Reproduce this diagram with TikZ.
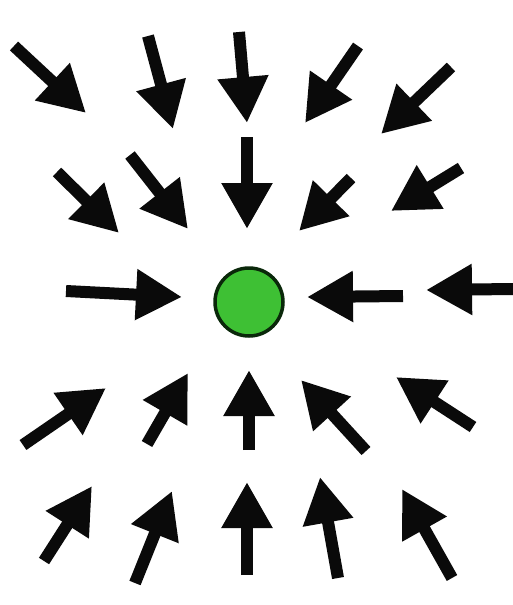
\documentclass[tikz,border=0pt]{standalone}
\usepackage{xcolor}
\usepackage{tikz}
\usetikzlibrary{arrows.meta}
\definecolor{chargegreen}{RGB}{62, 192, 52}
\definecolor{rimgreen}{RGB}{10, 40, 10}
\definecolor{fieldblack}{RGB}{10, 10, 10}
\tikzset{
  fieldarrow/.style={-{Triangle[length=46pt, width=48pt]}, line width=12pt,
              color=fieldblack},
  chargedot/.style={circle, draw=rimgreen, fill=chargegreen, line width=3.5pt,
              minimum size=68pt, inner sep=0pt},
}
\begin{document}
\begin{tikzpicture}[x=1pt, y=-1pt]
  \useasboundingbox[fill=white] (0,0) rectangle (513,605);

  % the charge in the middle
  \node[chargedot] (charge) at (249,302) {};

  % row 1
  \coordinate (r1c1t) at (14,46);   \coordinate (r1c1h) at (86,113);
  \coordinate (r1c2t) at (148,36);  \coordinate (r1c2h) at (173,129);
  \coordinate (r1c3t) at (239,32);  \coordinate (r1c3h) at (247,123);
  \coordinate (r1c4t) at (358,46);  \coordinate (r1c4h) at (305,123);
  \coordinate (r1c5t) at (451,67);  \coordinate (r1c5h) at (381,134);
  \draw[fieldarrow] (r1c1t) -- (r1c1h);
  \draw[fieldarrow] (r1c2t) -- (r1c2h);
  \draw[fieldarrow] (r1c3t) -- (r1c3h);
  \draw[fieldarrow] (r1c4t) -- (r1c4h);
  \draw[fieldarrow] (r1c5t) -- (r1c5h);

  % row 2
  \coordinate (r2c1t) at (57,172);  \coordinate (r2c1h) at (119,233);
  \coordinate (r2c2t) at (130,155); \coordinate (r2c2h) at (188,229);
  \coordinate (r2c3t) at (247,137); \coordinate (r2c3h) at (247,229);
  \coordinate (r2c4t) at (351,178); \coordinate (r2c4h) at (299,231);
  \coordinate (r2c5t) at (461,168); \coordinate (r2c5h) at (391,211);
  \draw[fieldarrow] (r2c1t) -- (r2c1h);
  \draw[fieldarrow] (r2c2t) -- (r2c2h);
  \draw[fieldarrow] (r2c3t) -- (r2c3h);
  \draw[fieldarrow] (r2c4t) -- (r2c4h);
  \draw[fieldarrow] (r2c5t) -- (r2c5h);

  % row 3
  \coordinate (r3c1t) at (66,291);  \coordinate (r3c1h) at (182,297);
  \coordinate (r3c4t) at (403,296); \coordinate (r3c4h) at (307,297);
  \coordinate (r3c5t) at (513,289); \coordinate (r3c5h) at (426,290);
  \draw[fieldarrow] (r3c1t) -- (r3c1h);
  \draw[fieldarrow] (r3c4t) -- (r3c4h);
  \draw[fieldarrow] (r3c5t) -- (r3c5h);

  % row 4
  \coordinate (r4c1t) at (23,445);  \coordinate (r4c1h) at (106,388);
  \coordinate (r4c2t) at (147,444); \coordinate (r4c2h) at (188,373);
  \coordinate (r4c3t) at (249,450); \coordinate (r4c3h) at (249,370);
  \coordinate (r4c4t) at (366,451); \coordinate (r4c4h) at (301,380);
  \coordinate (r4c5t) at (473,427); \coordinate (r4c5h) at (396,377);
  \draw[fieldarrow] (r4c1t) -- (r4c1h);
  \draw[fieldarrow] (r4c2t) -- (r4c2h);
  \draw[fieldarrow] (r4c3t) -- (r4c3h);
  \draw[fieldarrow] (r4c4t) -- (r4c4h);
  \draw[fieldarrow] (r4c5t) -- (r4c5h);

  % row 5
  \coordinate (r5c1t) at (44,561);  \coordinate (r5c1h) at (92,486);
  \coordinate (r5c2t) at (135,583); \coordinate (r5c2h) at (172,491);
  \coordinate (r5c3t) at (247,575); \coordinate (r5c3h) at (247,482);
  \coordinate (r5c4t) at (338,578); \coordinate (r5c4h) at (320,477);
  \coordinate (r5c5t) at (452,578); \coordinate (r5c5h) at (402,489);
  \draw[fieldarrow] (r5c1t) -- (r5c1h);
  \draw[fieldarrow] (r5c2t) -- (r5c2h);
  \draw[fieldarrow] (r5c3t) -- (r5c3h);
  \draw[fieldarrow] (r5c4t) -- (r5c4h);
  \draw[fieldarrow] (r5c5t) -- (r5c5h);
\end{tikzpicture}
\end{document}
